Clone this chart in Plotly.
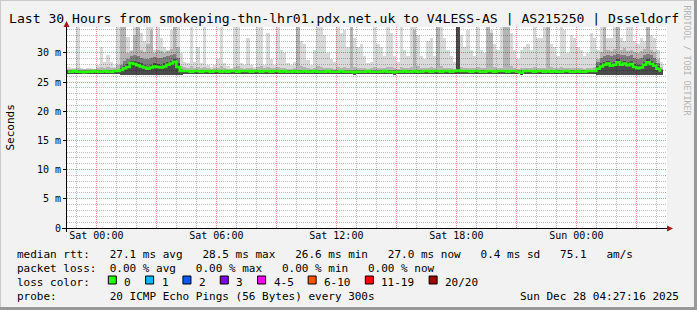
import plotly.graph_objects as go
import pandas as pd

# ---------------- data (ms), 10-minute bins starting Fri 22:30 ----------------
med = [26.8, 26.8, 26.9, 26.8, 26.8, 26.7, 26.8, 26.8, 26.9, 26.8, 26.8, 26.9, 26.8, 26.8, 26.9, 26.9, 27.1, 27.4, 27.6, 28.3,
       28.1, 27.9, 27.7, 27.5, 27.3, 27.5, 27.7, 27.6, 27.5, 27.7, 28.0, 28.2, 28.5, 27.6, 26.9, 26.9, 26.9, 26.8, 26.9, 26.9,
       26.8, 26.9, 26.9, 26.8, 26.9, 26.9, 26.8, 26.9, 26.8, 26.9, 26.9, 26.8, 26.9, 26.9, 26.9, 26.8, 26.9, 26.9, 26.8, 26.9,
       26.9, 26.8, 26.9, 26.9, 26.8, 26.9, 26.8, 26.8, 26.9, 26.8, 26.8, 26.9, 26.8, 26.8, 26.9, 26.8, 26.8, 26.8, 26.9, 26.8,
       26.8, 26.8, 26.9, 26.8, 26.8, 26.8, 26.7, 26.8, 26.8, 26.8, 26.9, 26.8, 26.8, 26.8, 26.8, 26.9, 26.8, 26.8, 26.7, 26.8,
       26.8, 26.9, 26.8, 26.8, 26.9, 26.8, 26.8, 26.9, 26.9, 26.8, 26.9, 26.9, 26.8, 26.9, 26.9, 26.8, 26.9, 27.0, 26.9, 26.9,
       26.9, 26.8, 26.9, 26.9, 26.8, 26.8, 26.9, 26.9, 26.8, 26.9, 26.9, 26.9, 26.8, 26.9, 26.9, 26.8, 26.6, 26.9, 26.9, 26.9,
       26.8, 26.9, 26.9, 26.8, 26.9, 26.8, 26.9, 26.8, 26.8, 26.9, 26.9, 26.8, 26.8, 26.9, 26.8, 26.8, 26.9, 26.9, 26.9, 27.3,
       27.7, 28.0, 28.2, 27.8, 28.0, 28.4, 28.0, 28.2, 27.9, 28.1, 27.6, 27.4, 27.5, 28.0, 28.4, 28.1, 27.8, 27.3, 27.0, None]

lo = [26.4, 26.4, 26.4, 26.4, 26.4, 26.4, 26.4, 26.4, 26.4, 26.4, 26.4, 26.4, 26.4, 26.4, 26.4, 26.4, 26.3, 26.3, 26.3, 26.3,
      26.3, 26.3, 26.3, 26.3, 26.3, 26.3, 26.3, 26.3, 26.3, 26.3, 26.3, 26.3, 26.3, 26.3, 26.3, 26.4, 26.4, 26.4, 26.4, 26.4,
      26.4, 26.4, 26.4, 26.4, 26.4, 26.4, 26.4, 26.4, 26.4, 26.4, 26.4, 26.4, 26.4, 26.4, 26.4, 26.4, 26.4, 26.4, 26.4, 26.4,
      26.4, 26.4, 26.4, 26.4, 26.4, 26.4, 26.4, 26.4, 26.4, 26.4, 26.4, 26.4, 26.4, 26.4, 26.4, 26.4, 26.4, 26.4, 26.4, 26.4,
      26.4, 26.4, 26.4, 26.4, 26.4, 26.4, 26.3, 26.4, 26.4, 26.4, 26.4, 26.4, 26.4, 26.4, 26.4, 26.4, 26.4, 26.4, 26.3, 26.4,
      26.4, 26.4, 26.4, 26.4, 26.4, 26.4, 26.4, 26.4, 26.4, 26.4, 26.4, 26.4, 26.4, 26.4, 26.4, 26.4, 26.4, 26.4, 26.4, 26.4,
      26.4, 26.4, 26.4, 26.4, 26.4, 26.4, 26.4, 26.4, 26.4, 26.4, 26.4, 26.4, 26.4, 26.4, 26.4, 26.4, 26.2, 26.4, 26.4, 26.4,
      26.4, 26.4, 26.4, 26.4, 26.4, 26.4, 26.4, 26.4, 26.4, 26.4, 26.4, 26.4, 26.4, 26.4, 26.4, 26.4, 26.4, 26.4, 26.4, 26.3,
      26.3, 26.3, 26.3, 26.3, 26.3, 26.3, 26.3, 26.3, 26.3, 26.3, 26.3, 26.3, 26.3, 26.3, 26.3, 26.3, 26.3, 26.3, 26.3, None]

hi = [27.6, 27.5, 27.4, 34.5, 27.4, 27.3, 27.5, 27.4, 27.3, 28.0, 31.0, 28.4, 29.6, 28.5, 27.6, 34.5, 34.5, 34.5, 32.7, 30.5,
      34.5, 34.5, 33.5, 32.0, 34.5, 34.5, 30.5, 34.5, 32.5, 31.0, 30.5, 34.0, 34.5, 34.5, 30.0, 28.5, 28.2, 34.5, 28.5, 31.0,
      28.2, 34.5, 28.0, 27.6, 28.0, 29.0, 34.5, 28.2, 27.8, 27.5, 34.5, 34.5, 28.3, 28.0, 32.5, 28.0, 27.6, 34.5, 34.5, 28.0,
      33.5, 29.0, 28.0, 34.5, 30.5, 30.0, 28.3, 28.0, 28.5, 34.5, 32.0, 31.5, 28.8, 28.0, 30.5, 34.5, 34.5, 33.0, 30.0, 29.0,
      28.5, 34.5, 33.5, 34.0, 31.0, 34.5, 32.5, 31.0, 31.5, 29.5, 28.2, 28.5, 34.5, 31.5, 31.0, 29.5, 34.5, 33.5, 29.5, 28.5,
      34.5, 30.5, 29.5, 34.5, 34.5, 33.0, 29.5, 29.0, 32.0, 32.5, 29.5, 34.5, 34.5, 32.5, 30.5, 29.5, 28.5, 34.5, 33.0, 31.0,
      34.0, 30.5, 29.5, 34.5, 30.5, 30.0, 34.5, 34.0, 31.5, 30.5, 34.5, 34.5, 34.5, 33.5, 30.5, 29.0, 30.5, 31.0, 31.5, 30.5,
      34.5, 32.5, 32.5, 34.5, 34.5, 31.5, 31.0, 29.5, 34.5, 34.0, 30.0, 33.0, 32.5, 31.0, 30.5, 29.5, 30.0, 33.5, 32.5, 30.5,
      34.5, 34.5, 32.5, 32.5, 34.5, 34.5, 32.5, 32.0, 34.5, 34.5, 32.0, 31.5, 32.5, 32.0, 34.5, 33.0, 32.5, 30.5, 28.5, None]

mid = [27.2, 27.2, 27.3, 27.4, 27.2, 27.2, 27.3, 27.2, 27.2, 27.5, 27.6, 27.4, 27.6, 27.5, 27.4, 28.0, 34.5, 34.5, 30.0, 30.3,
       33.0, 34.5, 30.5, 30.2, 31.5, 34.0, 30.0, 30.5, 30.3, 30.0, 30.4, 30.6, 34.5, 31.0, 27.8, 27.6, 27.4, 27.8, 27.5, 27.6,
       27.4, 27.6, 27.4, 27.3, 27.4, 27.5, 27.8, 27.4, 27.3, 27.3, 27.6, 27.8, 27.4, 27.3, 27.5, 27.4, 27.3, 27.6, 27.8, 27.4,
       27.6, 27.4, 27.4, 27.6, 27.4, 27.4, 27.3, 27.3, 27.4, 34.5, 27.8, 27.6, 27.4, 27.3, 27.5, 27.8, 27.6, 27.5, 27.4, 27.4,
       27.3, 27.6, 27.5, 27.6, 27.5, 34.5, 27.6, 27.5, 27.5, 27.4, 27.3, 27.4, 27.6, 27.4, 27.5, 27.4, 27.6, 27.6, 27.4, 27.3,
       27.6, 27.4, 27.4, 27.6, 34.0, 27.8, 27.4, 27.4, 27.5, 27.6, 27.4, 34.5, 27.8, 27.5, 27.4, 27.4, 27.3, 34.5, 27.6, 27.5,
       27.5, 27.4, 27.4, 27.6, 27.4, 27.4, 34.5, 33.5, 27.6, 27.4, 27.5, 34.5, 34.5, 27.8, 27.4, 27.3, 27.4, 27.5, 27.4, 27.4,
       27.6, 27.5, 27.4, 27.5, 34.5, 27.6, 27.4, 27.4, 27.6, 27.5, 27.4, 27.5, 27.4, 27.4, 27.4, 27.3, 27.4, 27.5, 27.6, 29.0,
       30.2, 34.5, 30.5, 30.4, 30.6, 34.5, 30.5, 30.8, 30.3, 30.5, 30.2, 30.0, 30.3, 30.6, 34.5, 30.5, 30.2, 29.0, 27.6, None]

dk = [27.0, 27.0, 27.0, 27.0, 27.0, 27.0, 27.0, 27.0, 27.0, 27.0, 27.0, 27.0, 27.0, 27.0, 27.0, 27.0, 28.0, 28.6, 29.0, 29.4,
      29.6, 29.4, 29.2, 29.0, 28.9, 29.1, 29.3, 29.2, 29.1, 29.3, 29.5, 29.6, 29.8, 29.2, 27.2, 27.0, 27.0, 27.0, 27.0, 27.0,
      27.0, 27.0, 27.0, 27.0, 27.0, 27.0, 27.0, 27.0, 27.0, 27.0, 27.0, 27.0, 27.0, 27.0, 27.0, 27.0, 27.0, 27.0, 27.0, 27.0,
      27.0, 27.0, 27.0, 27.0, 27.0, 27.0, 27.0, 27.0, 27.0, 27.0, 27.0, 27.0, 27.0, 27.0, 27.0, 27.0, 27.0, 27.0, 27.0, 27.0,
      27.0, 27.0, 27.0, 27.0, 27.0, 27.0, 27.0, 27.0, 27.0, 27.0, 27.0, 27.0, 27.0, 27.0, 27.0, 27.0, 27.0, 27.0, 27.0, 27.0,
      27.0, 27.0, 27.0, 27.0, 27.0, 27.0, 27.0, 27.0, 27.0, 27.0, 27.0, 27.0, 27.0, 27.0, 27.0, 27.0, 27.0, 34.5, 27.0, 27.0,
      27.0, 27.0, 27.0, 27.0, 27.0, 27.0, 27.0, 27.0, 27.0, 27.0, 27.0, 27.0, 27.0, 27.0, 27.0, 27.0, 27.0, 27.0, 27.0, 27.0,
      27.0, 27.0, 27.0, 27.0, 27.0, 27.0, 27.0, 27.0, 27.0, 27.0, 27.0, 27.0, 27.0, 27.0, 27.0, 27.0, 27.0, 27.0, 27.0, 28.4,
      29.2, 29.5, 29.7, 29.4, 29.6, 29.9, 29.6, 29.7, 29.4, 29.6, 29.2, 29.0, 29.2, 29.6, 29.9, 29.6, 29.2, 28.2, 27.2, None]

core = [26.9, 26.9, 26.9, 26.9, 26.9, 26.9, 26.9, 26.9, 26.9, 26.9, 26.9, 26.9, 26.9, 26.9, 26.9, 26.9, 27.4, 27.8, 28.1, 28.7,
        28.6, 28.4, 28.2, 28.0, 27.8, 28.0, 28.2, 28.1, 28.0, 28.2, 28.5, 28.7, 28.9, 28.2, 27.0, 26.9, 26.9, 26.9, 26.9, 26.9,
        26.9, 26.9, 26.9, 26.9, 26.9, 26.9, 26.9, 26.9, 26.9, 26.9, 26.9, 26.9, 26.9, 26.9, 26.9, 26.9, 26.9, 26.9, 26.9, 26.9,
        26.9, 26.9, 26.9, 26.9, 26.9, 26.9, 26.9, 26.9, 26.9, 26.9, 26.9, 26.9, 26.9, 26.9, 26.9, 26.9, 26.9, 26.9, 26.9, 26.9,
        26.9, 26.9, 26.9, 26.9, 26.9, 26.9, 26.9, 26.9, 26.9, 26.9, 26.9, 26.9, 26.9, 26.9, 26.9, 26.9, 26.9, 26.9, 26.9, 26.9,
        26.9, 26.9, 26.9, 26.9, 26.9, 26.9, 26.9, 26.9, 26.9, 26.9, 26.9, 26.9, 26.9, 26.9, 26.9, 26.9, 26.9, 34.5, 26.9, 26.9,
        26.9, 26.9, 26.9, 26.9, 26.9, 26.9, 26.9, 26.9, 26.9, 26.9, 26.9, 26.9, 26.9, 26.9, 26.9, 26.9, 26.9, 26.9, 26.9, 26.9,
        26.9, 26.9, 26.9, 26.9, 26.9, 26.9, 26.9, 26.9, 26.9, 26.9, 26.9, 26.9, 26.9, 26.9, 26.9, 26.9, 26.9, 26.9, 26.9, 27.7,
        28.2, 28.5, 28.7, 28.3, 28.5, 28.9, 28.5, 28.7, 28.4, 28.6, 28.1, 27.9, 28.0, 28.5, 28.9, 28.6, 28.3, 27.7, 27.0, None]

for arr in (med, lo, hi, mid, dk, core):
    assert len(arr) == 180, len(arr)

ytick_vals = [0, 5, 10, 15, 20, 25, 30]
ytick_text = ["0", "5 m", "10 m", "15 m", "20 m", "25 m", "30 m"]
xtick_text = ["Sat 00:00", "", "Sat 06:00", "", "Sat 12:00", "", "Sat 18:00", "", "Sun 00:00", ""]

title = "Last 30 Hours from smokeping-thn-lhr01.pdx.net.uk to V4LESS-AS | AS215250 | Dsseldorf"
line_rtt = "median rtt:   27.1 ms avg   28.5 ms max   26.6 ms min   27.0 ms now   0.4 ms sd   75.1   am/s"
line_loss = "packet loss:  0.00 % avg   0.00 % max   0.00 % min   0.00 % now"
line_probe = "probe:        20 ICMP Echo Pings (56 Bytes) every 300s"
stamp = "Sun Dec 28 04:27:16 2025"
loss_labels = ["0", "1", "2", "3", "4-5", "6-10", "11-19", "20/20"]
loss_colors = ["#26ff00", "#00b8ff", "#0059ff", "#7e00ff", "#ff00ff", "#ff5500", "#ff0000", "#a00000"]

# ---------------- figure ----------------
times = pd.date_range("2025-12-26 22:35:00", periods=180, freq="10min")
BIN_MS = 10 * 60 * 1000
MONO = "DejaVu Sans Mono"

def diff(a, b):
    return [None if (x is None or y is None) else round(x - y, 3) for x, y in zip(a, b)]

fig = go.Figure()
layers = [(hi, "rgba(0,0,0,0.15)"), (mid, "rgba(0,0,0,0.17)"),
          (dk, "rgba(0,0,0,0.30)"), (core, "rgba(0,0,0,0.40)")]
for top, col in layers:
    fig.add_trace(go.Bar(x=times, y=diff(top, lo), base=lo, width=BIN_MS,
                         marker=dict(color=col, line=dict(width=0)),
                         showlegend=False, hoverinfo="skip"))
fig.add_trace(go.Scatter(x=times, y=med, mode="lines", line=dict(color="#26ff00", width=2.5, shape="hvh"),
                         showlegend=False, hoverinfo="skip", connectgaps=False))

W, H = 697, 310
L, R, T, B = 67, 30, 27, 82
PW, PH = W - L - R, H - T - B

def px(x):
    return (x - L) / PW

def py(y):
    return (T + PH - y) / PH

major_x = pd.date_range("2025-12-27 00:00", periods=10, freq="3h")

fig.update_layout(
    width=W, height=H, margin=dict(l=L, r=R, t=T, b=B, autoexpand=False),
    paper_bgcolor="#f2f2f2", plot_bgcolor="#ffffff",
    barmode="overlay", bargap=0, showlegend=False,
    font=dict(family=MONO, size=10, color="#000000"),
    xaxis=dict(type="date", range=["2025-12-26 22:32:00", "2025-12-28 04:32:00"],
               tickmode="array", tickvals=list(major_x), ticktext=xtick_text,
               showgrid=True, gridcolor="#f08c8c", griddash="1px,1px", gridwidth=1,
               minor=dict(tickmode="linear", tick0="2025-12-27 00:00", dtick=3600000,
                          showgrid=True, gridcolor="#bdbdbd", griddash="1px,1px", gridwidth=1),
               ticks="", showline=False, zeroline=False, fixedrange=True,
               tickfont=dict(family=MONO, size=10, color="#000")),
    yaxis=dict(range=[0, 34.45], tickmode="array", tickvals=ytick_vals, ticktext=ytick_text,
               showgrid=True, gridcolor="#f08c8c", griddash="1px,1px", gridwidth=1,
               minor=dict(tickmode="linear", tick0=0, dtick=1, showgrid=True,
                          gridcolor="#bdbdbd", griddash="1px,1px", gridwidth=1),
               ticks="outside", ticklen=3, tickcolor="#000", showline=False, zeroline=False,
               fixedrange=True, tickfont=dict(family=MONO, size=10, color="#000")),
)

shapes = []
# frame (3D shade)
shapes.append(dict(type="line", xref="paper", yref="paper", x0=px(0), x1=px(W), y0=py(0.5), y1=py(0.5), line=dict(color="#cbcbcb", width=1)))
shapes.append(dict(type="line", xref="paper", yref="paper", x0=px(0.5), x1=px(0.5), y0=py(0), y1=py(H), line=dict(color="#cbcbcb", width=1)))
shapes.append(dict(type="line", xref="paper", yref="paper", x0=px(0), x1=px(W), y0=py(H - 1.5), y1=py(H - 1.5), line=dict(color="#999999", width=3)))
shapes.append(dict(type="line", xref="paper", yref="paper", x0=px(W - 1.5), x1=px(W - 1.5), y0=py(0), y1=py(H), line=dict(color="#999999", width=3)))
# axes
shapes.append(dict(type="line", xref="paper", yref="paper", x0=px(62), x1=px(668), y0=py(228.5), y1=py(228.5), line=dict(color="#000", width=1)))
shapes.append(dict(type="line", xref="paper", yref="paper", x0=px(66.5), x1=px(66.5), y0=py(232), y1=py(25), line=dict(color="#000", width=1)))
# arrows
shapes.append(dict(type="path", xref="paper", yref="paper",
                   path=f"M {px(667)} {py(225.5)} L {px(673)} {py(228.5)} L {px(667)} {py(231.5)} Z",
                   fillcolor="#a01818", line=dict(color="#a01818", width=0)))
shapes.append(dict(type="path", xref="paper", yref="paper",
                   path=f"M {px(63.5)} {py(27)} L {px(66.5)} {py(21)} L {px(69.5)} {py(27)} Z",
                   fillcolor="#a01818", line=dict(color="#a01818", width=0)))

annotations = []
def txt(x, y, s, size=11, xanchor="left", color="#000", angle=0):
    annotations.append(dict(x=px(x), y=py(y), xref="paper", yref="paper", text=s, showarrow=False,
                            xanchor=xanchor, yanchor="middle", textangle=angle,
                            font=dict(family=MONO, size=size, color=color)))

txt(7, 18, title, size=13.1)
txt(10, 127.5, "Seconds", size=11, xanchor="center", angle=-90)
txt(686.5, 60, "RRDTOOL / TOBI OETIKER", size=8.3, xanchor="center", color="#b4b4b4", angle=90)
txt(15, 254, line_rtt)
txt(15, 268, line_loss)
txt(15, 282, "loss color:")
txt(15, 296, line_probe)
txt(681, 296, stamp, xanchor="right")

CW = 6.62
bx = 108.3
for lab, col in zip(loss_labels, loss_colors):
    shapes.append(dict(type="rect", xref="paper", yref="paper", x0=px(bx), x1=px(bx + 8), y0=py(276), y1=py(284),
                       fillcolor=col, line=dict(color="#000", width=1)))
    txt(bx + 14, 282, lab)
    bx += 30.7 + CW * len(lab)

fig.update_layout(shapes=shapes, annotations=annotations)
fig.write_html("out.html")
